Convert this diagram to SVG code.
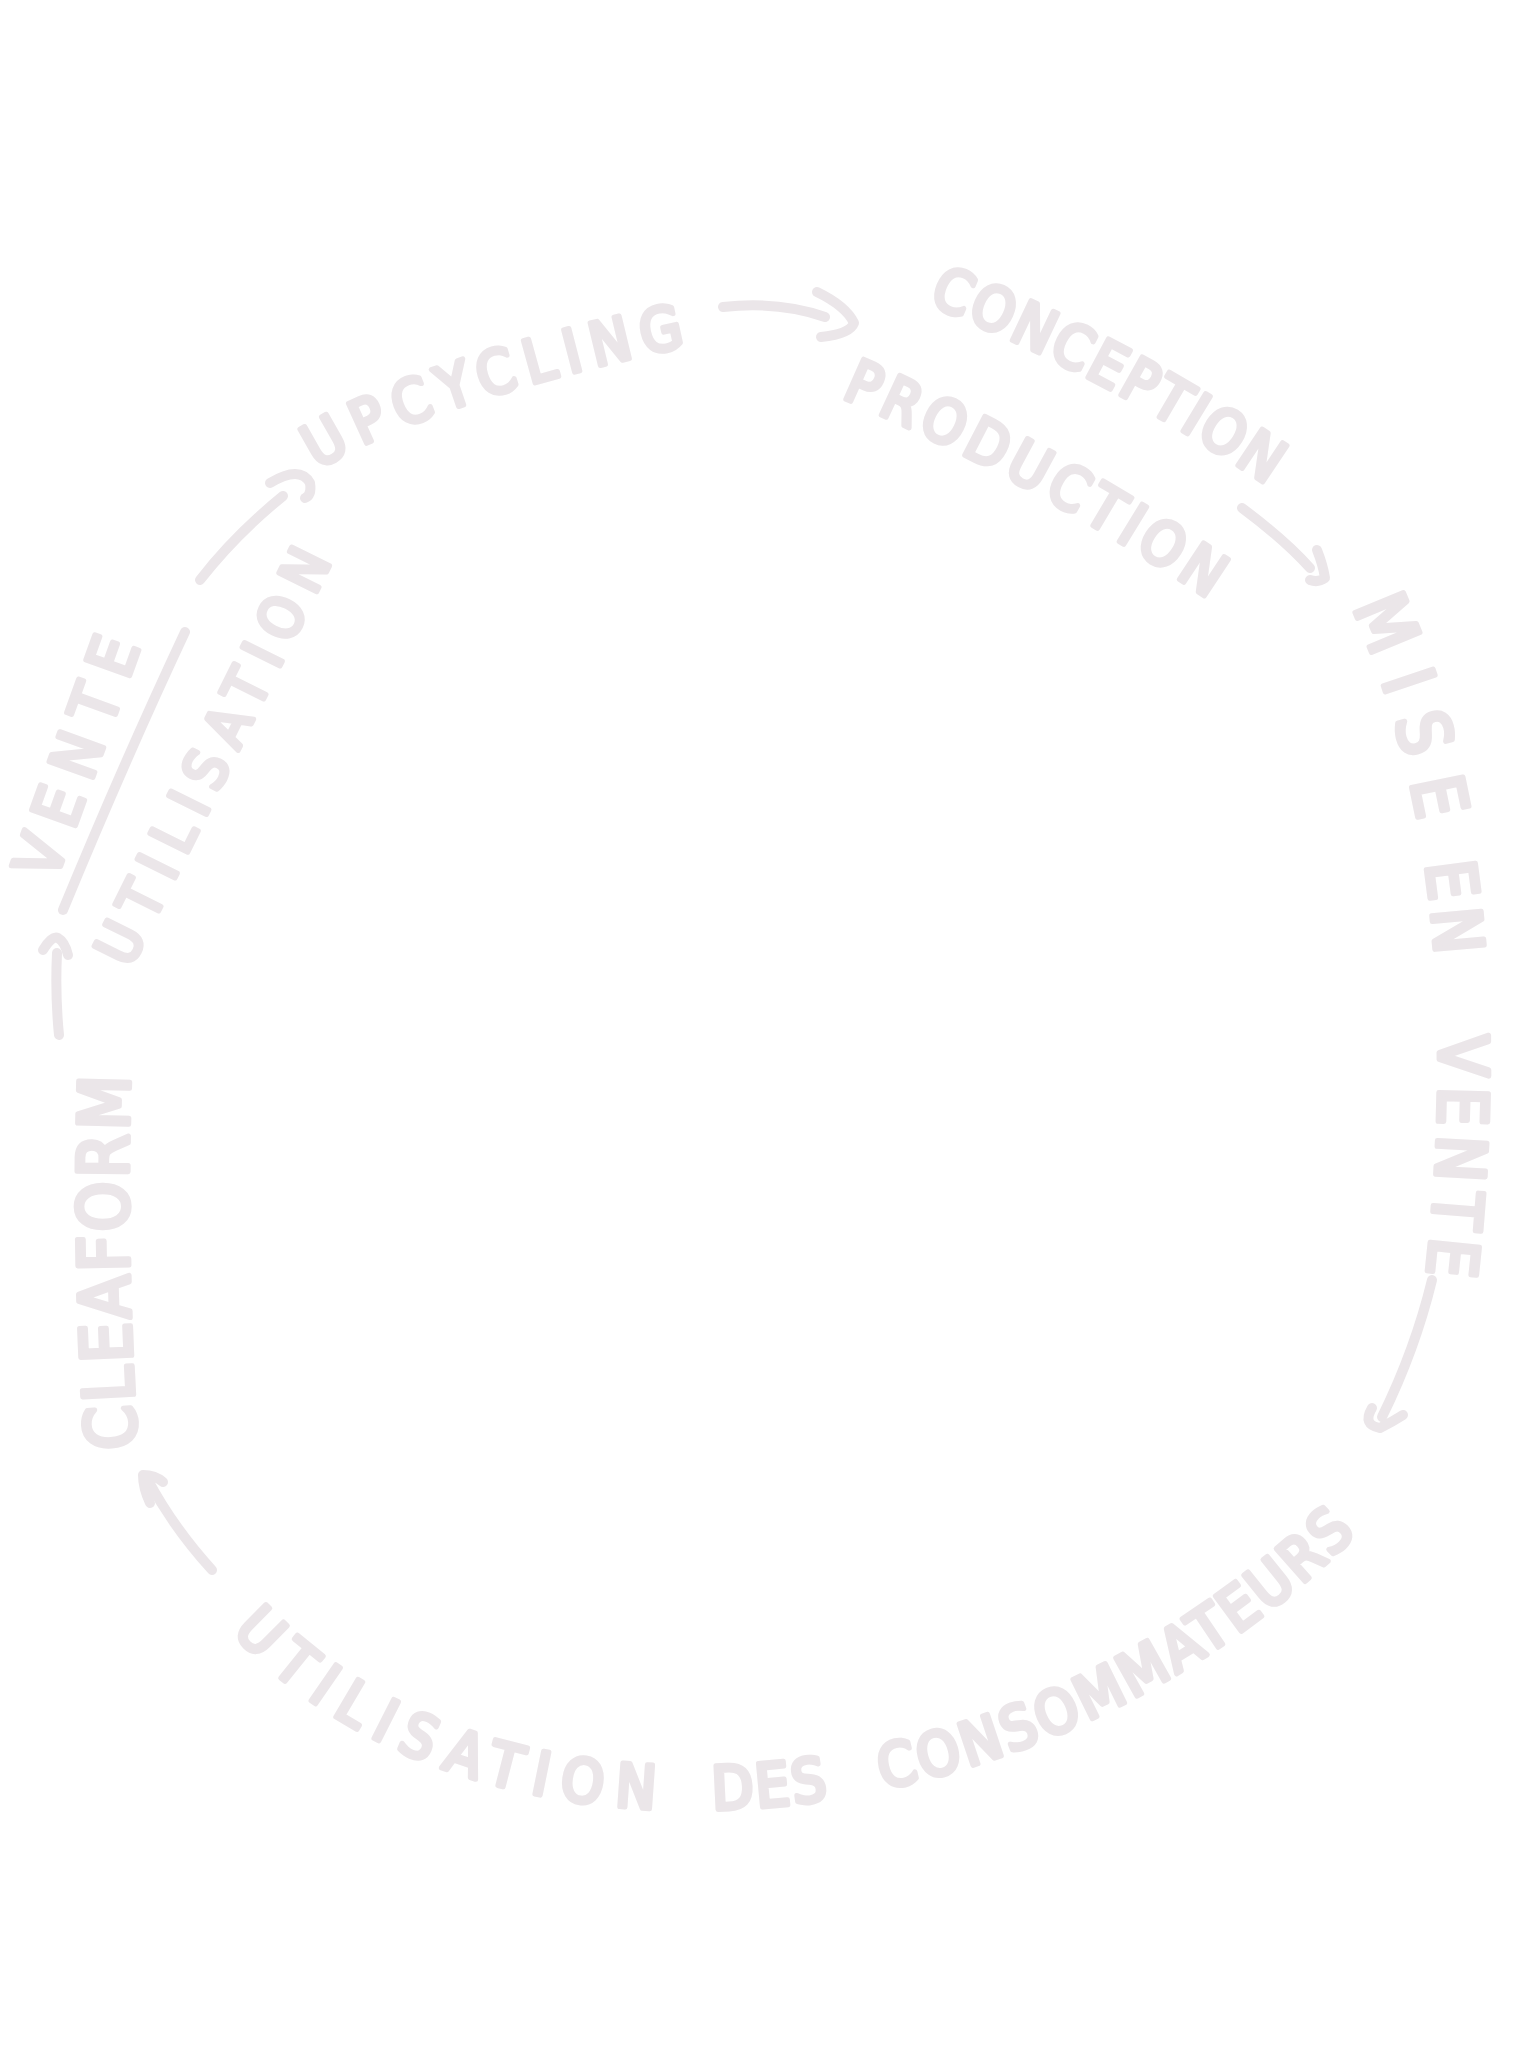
<svg xmlns="http://www.w3.org/2000/svg" width="1536" height="2048" viewBox="0 0 1536 2048">
<defs>
<style>
.lbl { font-family: "DejaVu Sans Condensed", "Liberation Sans Narrow", "Liberation Sans", sans-serif; font-weight: normal; fill: #ebe6e9; stroke: #ebe6e9; stroke-width: 5; stroke-linejoin: round; stroke-linecap: round; }
.ln { fill: none; stroke: #ebe6e9; stroke-width: 10; stroke-linecap: round; stroke-linejoin: round; }
</style>
<path id="p-conc" d="M 928 304 Q 1105 375 1264 483"/>
<path id="p-prod" d="M 841 397 Q 1034 481 1209 599"/>
<path id="p-mise" d="M 1352 607 Q 1470 865 1428 1262"/>
<path id="p-util" d="M 232 1632 C 480 1900, 1020 1860, 1345 1545"/>
<path id="p-clea" d="M 137 1448 Q 124 1262 130 1075"/>
<path id="p-vente" d="M 55 882 L 140 647"/>
<path id="p-util2" d="M 130 969 L 332 561"/>
<path id="p-upc" d="M 318 470 C 380 430, 500 385, 690 345"/>
</defs>
<rect width="1536" height="2048" fill="#ffffff"/>

<g id="conception"><text class="lbl" font-size="60"><textPath href="#p-conc" textLength="385" lengthAdjust="spacing">CONCEPTION</textPath></text></g>
<g id="production"><text class="lbl" font-size="60"><textPath href="#p-prod" textLength="420" lengthAdjust="spacing">PRODUCTION</textPath></text></g>
<g id="mise-en-vente">
<text class="lbl" font-size="72"><textPath href="#p-mise" startOffset="0" textLength="225" lengthAdjust="spacing">MISE</textPath></text>
<text class="lbl" font-size="68"><textPath href="#p-mise" startOffset="268" textLength="92" lengthAdjust="spacing">EN</textPath></text>
<text class="lbl" font-size="68"><textPath href="#p-mise" startOffset="440" textLength="240" lengthAdjust="spacing">VENTE</textPath></text>
</g>
<g id="utilisation-consommateurs">
<text class="lbl" font-size="60"><textPath href="#p-util" startOffset="0" textLength="470" lengthAdjust="spacing">UTILISATION</textPath></text>
<text class="lbl" font-size="60"><textPath href="#p-util" startOffset="528" textLength="116" lengthAdjust="spacing">DES</textPath></text>
<text class="lbl" font-size="60"><textPath href="#p-util" startOffset="700" textLength="545" lengthAdjust="spacing">CONSOMMATEURS</textPath></text>
</g>
<g id="cleaform"><text class="lbl" font-size="70"><textPath href="#p-clea" textLength="372" lengthAdjust="spacing">CLEAFORM</textPath></text></g>
<g id="vente-utilisation">
<text class="lbl" font-size="64"><textPath href="#p-vente" textLength="250" lengthAdjust="spacing">VENTE</textPath></text>
<text class="lbl" font-size="58"><textPath href="#p-util2" textLength="455" lengthAdjust="spacing">UTILISATION</textPath></text>
<path class="ln" stroke-width="9" d="M 185 632 Q 125 760 63 910"/>
</g>
<g id="upcycling"><text class="lbl" font-size="60"><textPath href="#p-upc" textLength="390" lengthAdjust="spacing">UPCYCLING</textPath></text></g>

<g id="connectors">
<path class="ln" d="M 723 307 Q 779 301 825 317"/>
<path class="ln" d="M 817 292 Q 846 306 854 323 Q 850 334 821 337"/>
<path class="ln" d="M 1242 508 Q 1285 540 1310 568"/>
<path class="ln" d="M 1317 550 Q 1323 565 1325 578 Q 1318 583 1310 580"/>
<path class="ln" d="M 1432 1280 Q 1415 1350 1382 1417"/>
<path class="ln" d="M 1372 1408 Q 1362 1425 1380 1428 Q 1392 1422 1403 1415"/>
<path class="ln" d="M 212 1570 Q 173 1527 148 1480"/>
<path class="ln" d="M 150 1503 Q 143 1488 143 1475 Q 155 1475 163 1482"/>
<path class="ln" d="M 59 1035 Q 55 995 57 953"/>
<path class="ln" d="M 43 950 Q 52 935 58 938 Q 65 942 68 955"/>
<path class="ln" d="M 200 580 Q 235 535 283 496"/>
<path class="ln" d="M 270 483 Q 300 465 310 483 Q 312 495 305 498"/>
</g>
</svg>
